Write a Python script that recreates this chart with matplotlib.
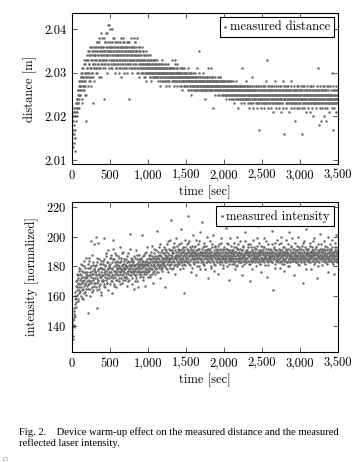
import matplotlib
matplotlib.use("Agg")
import matplotlib.pyplot as plt
import numpy as np
from matplotlib.ticker import FuncFormatter

# two logs, each one sample every 5 s (second one shifted by 2.5 s), 20 samples per line = 100 s
step = 5.0

# distance in mm above 2.000 m
dist_mm_a = [
    15, 13, 20, 16, 21, 14, 22, 17, 20, 12, 21, 23, 22, 24, 20, 25, 23, 26, 22, 28,
    26, 28, 25, 29, 27, 30, 24, 28, 31, 26, 29, 27, 32, 28, 30, 25, 19, 33, 29, 31,
    31, 29, 33, 27, 35, 30, 32, 28, 34, 31, 36, 29, 33, 30, 35, 23, 32, 34, 28, 31,
    32, 34, 31, 36, 33, 35, 30, 37, 32, 34, 38, 33, 31, 36, 35, 29, 34, 39, 32, 33,
    35, 31, 36, 33, 24, 34, 37, 32, 35, 39, 33, 30, 36, 34, 41, 32, 35, 41, 33, 36,
    34, 37, 31, 35, 33, 36, 40, 32, 34, 38, 33, 35, 30, 36, 32, 34, 37, 31, 35, 33,
    36, 32, 34, 30, 35, 37, 33, 31, 36, 34, 29, 35, 32, 38, 33, 36, 31, 34, 37, 32,
    33, 35, 31, 36, 32, 34, 30, 37, 35, 33, 24, 36, 32, 34, 31, 35, 33, 36, 30, 34,
    35, 32, 38, 33, 36, 31, 34, 37, 32, 35, 30, 33, 38, 34, 31, 36, 33, 29, 35, 32,
    34, 31, 33, 36, 30, 32, 35, 31, 33, 29, 34, 32, 30, 33, 31, 35, 28, 32, 30, 34,
    31, 33, 30, 32, 29, 34, 31, 30, 33, 28, 32, 31, 29, 33, 30, 31, 32, 29, 30, 33,
    30, 32, 31, 29, 33, 30, 31, 28, 32, 30, 31, 29, 27, 32, 30, 31, 33, 29, 30, 28,
    31, 29, 30, 32, 28, 31, 30, 29, 27, 31, 30, 28, 32, 29, 31, 30, 28, 29, 31, 30,
    29, 31, 30, 28, 33, 29, 30, 31, 27, 29, 30, 28, 33, 31, 29, 30, 28, 32, 29, 30,
    30, 28, 29, 31, 27, 30, 29, 28, 30, 31, 26, 29, 28, 30, 27, 29, 31, 28, 30, 29,
    28, 30, 29, 27, 31, 28, 29, 26, 30, 28, 27, 29, 25, 28, 30, 27, 29, 28, 26, 29,
    27, 29, 28, 30, 26, 28, 29, 27, 31, 28, 26, 29, 27, 28, 30, 35, 27, 29, 28, 26,
    28, 27, 29, 26, 28, 30, 27, 28, 26, 29, 27, 24, 28, 27, 29, 26, 28, 27, 31, 28,
    27, 29, 26, 28, 27, 31, 28, 26, 27, 29, 28, 22, 27, 26, 28, 27, 29, 26, 28, 27,
    26, 28, 27, 29, 26, 27, 28, 25, 27, 29, 26, 28, 27, 26, 28, 25, 27, 28, 26, 27,
    26, 27, 25, 28, 26, 24, 27, 26, 28, 25, 27, 26, 24, 28, 26, 27, 25, 26, 28, 24,
    25, 27, 26, 24, 28, 25, 26, 23, 27, 25, 26, 24, 28, 26, 25, 27, 24, 26, 22, 25,
    26, 24, 27, 25, 23, 26, 31, 25, 27, 24, 26, 25, 23, 27, 24, 26, 25, 28, 24, 26,
    25, 27, 24, 26, 23, 25, 22, 26, 24, 27, 25, 23, 26, 24, 29, 25, 22, 26, 24, 25,
    24, 26, 25, 23, 27, 24, 25, 22, 26, 24, 23, 17, 25, 27, 24, 26, 23, 25, 22, 24,
    26, 24, 23, 25, 27, 24, 22, 26, 25, 23, 24, 28, 25, 33, 23, 26, 24, 22, 25, 27,
    24, 25, 23, 26, 22, 24, 27, 25, 23, 24, 21, 26, 25, 23, 28, 24, 22, 25, 26, 23,
    25, 23, 24, 26, 22, 25, 24, 27, 23, 25, 21, 24, 26, 23, 25, 28, 22, 24, 16, 25,
    24, 26, 23, 25, 22, 24, 27, 23, 25, 24, 21, 26, 23, 24, 25, 22, 28, 24, 23, 25,
    23, 25, 24, 22, 26, 24, 23, 25, 19, 24, 26, 22, 25, 23, 24, 27, 23, 25, 22, 24,
    25, 23, 24, 26, 16, 24, 22, 25, 23, 27, 24, 22, 25, 23, 24, 26, 21, 24, 25, 23,
    24, 22, 25, 23, 26, 24, 21, 25, 23, 24, 27, 22, 24, 25, 23, 20, 24, 26, 23, 25,
    23, 25, 24, 22, 26, 23, 25, 31, 24, 18, 23, 25, 22, 24, 26, 19, 23, 25, 24, 22,
    24, 23, 25, 20, 24, 22, 26, 23, 25, 19, 24, 22, 25, 27, 23, 24, 21, 25, 23, 24,
    25, 23, 24, 30, 22, 25, 17, 24, 23, 26, 22, 24, 25, 23, 21, 24, 26, 23, 25, 24,
]

dist_mm_b = [
    14, 17, 13, 19, 16, 21, 18, 20, 15, 22, 19, 23, 21, 24, 22, 26, 23, 25, 27, 24,
    27, 25, 29, 26, 30, 28, 23, 31, 27, 29, 26, 33, 28, 30, 27, 32, 29, 25, 34, 30,
    33, 30, 35, 28, 32, 34, 29, 36, 31, 33, 27, 35, 30, 34, 32, 36, 29, 33, 31, 35,
    34, 36, 30, 33, 37, 31, 35, 32, 36, 34, 29, 37, 33, 35, 31, 36, 34, 32, 38, 35,
    33, 36, 34, 38, 32, 35, 31, 37, 34, 36, 33, 39, 35, 32, 37, 34, 36, 31, 35, 40,
    35, 33, 36, 32, 37, 34, 31, 35, 33, 36, 38, 32, 34, 37, 33, 35, 31, 36, 34, 32,
    34, 37, 33, 35, 31, 36, 34, 32, 38, 35, 33, 31, 36, 34, 32, 37, 35, 30, 33, 36,
    35, 31, 34, 37, 33, 36, 32, 35, 34, 31, 37, 33, 35, 32, 36, 34, 38, 31, 35, 33,
    33, 36, 34, 31, 35, 32, 37, 33, 34, 36, 31, 35, 33, 30, 34, 36, 32, 35, 31, 33,
    32, 34, 30, 33, 31, 35, 32, 30, 34, 31, 33, 29, 32, 31, 34, 30, 33, 31, 32, 30,
    32, 30, 33, 31, 30, 32, 29, 31, 33, 30, 31, 32, 30, 29, 31, 33, 30, 32, 31, 29,
    31, 29, 30, 32, 31, 30, 29, 31, 30, 32, 28, 31, 30, 29, 31, 32, 30, 28, 31, 30,
    30, 31, 29, 30, 28, 31, 30, 32, 29, 30, 31, 28, 30, 29, 31, 30, 27, 30, 29, 31,
    30, 29, 31, 30, 28, 30, 29, 31, 28, 30, 29, 32, 30, 28, 29, 31, 30, 27, 29, 30,
    29, 30, 28, 29, 30, 27, 29, 30, 28, 29, 31, 28, 29, 27, 30, 28, 29, 30, 27, 28,
    29, 28, 30, 27, 29, 28, 26, 29, 28, 30, 27, 28, 29, 26, 28, 27, 29, 30, 28, 27,
    28, 27, 29, 28, 26, 27, 28, 29, 27, 26, 28, 27, 29, 28, 26, 27, 28, 29, 26, 28,
    27, 28, 26, 29, 27, 28, 26, 27, 28, 29, 26, 27, 28, 26, 27, 29, 28, 26, 27, 28,
    28, 26, 27, 28, 29, 27, 26, 28, 27, 26, 28, 29, 27, 28, 26, 27, 28, 25, 27, 28,
    27, 26, 28, 27, 25, 28, 26, 27, 29, 26, 27, 28, 26, 25, 27, 28, 26, 27, 25, 28,
    27, 25, 26, 28, 27, 26, 25, 27, 26, 28, 25, 27, 26, 25, 27, 26, 28, 25, 26, 27,
    26, 25, 27, 26, 24, 27, 26, 25, 27, 26, 24, 25, 27, 26, 25, 27, 26, 24, 27, 26,
    25, 27, 26, 24, 27, 25, 26, 27, 24, 25, 26, 27, 25, 24, 26, 27, 25, 26, 24, 27,
    26, 24, 25, 27, 26, 24, 25, 26, 27, 23, 25, 26, 24, 27, 25, 26, 23, 25, 27, 26,
    25, 26, 24, 27, 25, 23, 26, 25, 24, 27, 25, 26, 23, 24, 26, 25, 27, 24, 25, 26,
    24, 26, 25, 27, 23, 25, 26, 24, 27, 25, 23, 26, 24, 25, 27, 26, 24, 23, 25, 26,
    26, 25, 24, 26, 27, 23, 25, 26, 24, 25, 27, 24, 26, 23, 25, 26, 24, 27, 25, 24,
    25, 27, 24, 26, 25, 23, 26, 24, 25, 27, 24, 26, 25, 23, 24, 26, 27, 25, 24, 26,
    27, 24, 26, 25, 23, 26, 25, 24, 27, 26, 24, 25, 23, 26, 25, 24, 26, 27, 25, 23,
    24, 26, 25, 23, 27, 25, 24, 26, 25, 23, 26, 24, 27, 25, 24, 26, 23, 25, 26, 24,
    26, 24, 25, 27, 24, 26, 23, 25, 24, 26, 27, 25, 24, 23, 26, 25, 24, 27, 25, 26,
    25, 23, 26, 24, 25, 27, 24, 26, 25, 23, 24, 26, 25, 27, 24, 25, 23, 26, 24, 25,
    24, 26, 23, 25, 27, 24, 25, 26, 23, 24, 26, 25, 27, 24, 23, 25, 26, 24, 25, 27,
    26, 25, 24, 27, 23, 25, 26, 24, 25, 26, 23, 27, 24, 25, 26, 24, 23, 25, 27, 24,
    25, 24, 26, 23, 25, 27, 24, 26, 25, 23, 24, 26, 25, 27, 24, 23, 25, 26, 24, 25,
]

intensity_a = [
    142, 137, 145, 131, 139, 148, 152, 158, 147, 163, 156, 170, 161, 166, 175, 158, 172, 168, 164, 177,
    171, 163, 178, 166, 174, 159, 181, 169, 165, 176, 170, 184, 162, 173, 168, 179, 161, 175, 172, 167,
    176, 168, 182, 149, 174, 170, 186, 165, 179, 173, 197, 169, 177, 163, 181, 171, 175, 195, 167, 178,
    172, 180, 166, 200, 175, 152, 183, 169, 177, 171, 185, 165, 174, 179, 168, 182, 173, 163, 178, 170,
    179, 171, 184, 168, 176, 199, 173, 181, 166, 177, 187, 172, 175, 169, 183, 178, 164, 180, 174, 186,
    176, 182, 170, 188, 174, 162, 179, 185, 172, 198, 177, 168, 183, 175, 189, 171, 180, 166, 178, 184,
    181, 174, 187, 170, 179, 193, 176, 183, 172, 178, 186, 169, 180, 175, 190, 177, 173, 184, 179, 171,
    178, 185, 173, 180, 167, 183, 176, 189, 175, 181, 171, 179, 202, 177, 184, 174, 180, 168, 182, 176,
    183, 176, 165, 180, 187, 174, 181, 178, 191, 172, 179, 185, 170, 182, 177, 188, 175, 180, 173, 184,
    179, 186, 174, 182, 201, 177, 184, 171, 180, 188, 176, 183, 167, 181, 178, 190, 175, 182, 185, 173,
    182, 176, 188, 179, 185, 173, 183, 190, 178, 181, 187, 175, 184, 169, 180, 186, 177, 192, 183, 179,
    184, 178, 191, 181, 204, 176, 186, 183, 193, 179, 185, 172, 188, 182, 180, 190, 177, 186, 184, 189,
    186, 180, 193, 183, 188, 166, 185, 191, 179, 187, 195, 182, 189, 176, 184, 192, 186, 181, 198, 185,
    211, 183, 190, 178, 187, 193, 184, 189, 181, 196, 186, 175, 191, 185, 188, 180, 194, 187, 183, 190,
    188, 182, 195, 185, 191, 178, 189, 186, 205, 183, 192, 187, 179, 190, 184, 162, 188, 193, 181, 186,
    189, 184, 195, 186, 191, 214, 183, 190, 187, 197, 181, 188, 192, 185, 176, 189, 194, 186, 183, 191,
    187, 193, 182, 189, 185, 198, 188, 174, 191, 186, 184, 195, 189, 180, 187, 192, 185, 203, 188, 183,
    190, 210, 184, 188, 193, 182, 187, 196, 185, 189, 178, 191, 186, 194, 183, 188, 190, 172, 187, 192,
    186, 191, 183, 188, 197, 185, 190, 179, 188, 193, 184, 187, 201, 182, 189, 186, 194, 181, 188, 190,
    189, 183, 192, 186, 175, 190, 185, 195, 188, 182, 191, 187, 184, 199, 186, 189, 181, 192, 187, 185,
    188, 193, 184, 190, 186, 206, 183, 189, 192, 180, 187, 195, 185, 190, 171, 188, 184, 191, 186, 194,
    187, 182, 191, 188, 185, 196, 183, 189, 178, 190, 186, 193, 184, 188, 200, 181, 189, 186, 192, 185,
    190, 185, 188, 197, 183, 189, 186, 174, 191, 187, 184, 194, 188, 182, 190, 186, 203, 185, 189, 183,
    186, 191, 184, 188, 195, 182, 189, 187, 170, 190, 185, 193, 188, 183, 191, 186, 198, 184, 189, 187,
    188, 183, 192, 186, 189, 180, 194, 187, 185, 207, 190, 184, 188, 196, 182, 189, 186, 176, 191, 185,
    189, 186, 193, 184, 188, 199, 185, 190, 187, 181, 192, 186, 189, 173, 184, 195, 188, 183, 190, 186,
    187, 192, 184, 189, 186, 204, 183, 190, 188, 164, 185, 193, 187, 182, 189, 196, 184, 188, 191, 185,
    186, 190, 183, 188, 195, 185, 189, 179, 191, 187, 184, 200, 188, 182, 190, 186, 193, 184, 177, 189,
    188, 184, 191, 186, 198, 183, 189, 187, 192, 180, 188, 185, 203, 187, 183, 190, 186, 194, 184, 189,
    187, 192, 185, 189, 174, 186, 190, 184, 196, 188, 183, 191, 187, 185, 200, 182, 189, 186, 193, 188,
    185, 190, 187, 183, 194, 188, 186, 191, 169, 187, 184, 197, 189, 186, 182, 192, 188, 205, 185, 190,
    189, 184, 192, 187, 185, 196, 183, 188, 190, 178, 186, 193, 187, 184, 191, 188, 199, 182, 189, 186,
    188, 193, 185, 190, 186, 172, 189, 184, 195, 187, 183, 191, 188, 202, 185, 190, 186, 181, 192, 187,
    186, 190, 184, 197, 188, 183, 191, 187, 185, 208, 189, 182, 193, 186, 176, 190, 187, 184, 195, 188,
    187, 192, 185, 189, 183, 198, 186, 190, 188, 175, 184, 193, 187, 191, 185, 201, 188, 183, 190, 186,
]

intensity_b = [
    135, 144, 140, 133, 146, 150, 141, 155, 160, 153, 167, 159, 171, 164, 157, 169, 174, 162, 179, 166,
    168, 175, 160, 172, 182, 164, 170, 177, 158, 173, 167, 180, 171, 163, 176, 169, 186, 165, 174, 170,
    173, 179, 165, 171, 184, 168, 176, 160, 174, 180, 170, 188, 166, 175, 172, 183, 164, 178, 169, 176,
    177, 169, 181, 174, 164, 186, 172, 178, 170, 196, 175, 167, 182, 173, 179, 161, 176, 184, 171, 174,
    174, 182, 170, 178, 185, 167, 180, 175, 189, 171, 177, 183, 169, 179, 174, 191, 172, 176, 181, 168,
    179, 173, 186, 176, 170, 183, 178, 192, 174, 180, 167, 185, 177, 173, 182, 176, 188, 171, 179, 175,
    177, 183, 172, 180, 186, 175, 179, 168, 184, 177, 181, 174, 189, 178, 171, 182, 176, 185, 173, 180,
    182, 175, 179, 187, 172, 180, 184, 177, 170, 183, 178, 192, 174, 181, 176, 186, 179, 172, 185, 177,
    178, 184, 175, 181, 170, 186, 177, 182, 179, 174, 188, 176, 183, 180, 166, 181, 178, 185, 176, 182,
    181, 176, 185, 179, 183, 173, 180, 187, 177, 182, 175, 189, 179, 184, 176, 181, 193, 178, 183, 177,
    180, 186, 177, 183, 188, 179, 174, 185, 181, 194, 178, 183, 186, 176, 182, 189, 180, 184, 175, 187,
    185, 179, 187, 183, 176, 190, 182, 186, 180, 188, 184, 195, 181, 178, 187, 183, 191, 179, 185, 182,
    183, 189, 181, 186, 192, 180, 187, 184, 190, 178, 186, 183, 197, 185, 181, 188, 184, 179, 191, 186,
    188, 182, 186, 191, 184, 179, 189, 186, 193, 183, 187, 181, 190, 186, 199, 184, 188, 182, 192, 187,
    185, 191, 187, 183, 189, 196, 184, 188, 181, 190, 186, 193, 185, 189, 182, 191, 187, 198, 184, 189,
    186, 192, 188, 183, 190, 185, 196, 187, 182, 189, 193, 184, 188, 191, 179, 187, 190, 185, 201, 188,
    190, 185, 188, 194, 183, 189, 186, 191, 180, 188, 192, 186, 183, 197, 188, 185, 190, 178, 189, 186,
    185, 189, 192, 183, 187, 190, 181, 188, 194, 186, 189, 183, 191, 187, 200, 185, 188, 192, 184, 189,
    189, 184, 187, 192, 186, 180, 190, 188, 185, 195, 187, 183, 189, 191, 177, 188, 186, 193, 184, 190,
    187, 191, 185, 189, 194, 183, 188, 186, 192, 184, 189, 196, 186, 183, 190, 187, 185, 191, 179, 188,
    186, 190, 188, 183, 192, 187, 185, 196, 189, 184, 188, 191, 186, 182, 190, 187, 199, 185, 189, 184,
    190, 186, 184, 191, 188, 182, 189, 193, 186, 187, 180, 190, 185, 192, 188, 184, 189, 195, 186, 183,
    187, 183, 192, 186, 189, 185, 191, 188, 180, 187, 193, 184, 189, 186, 197, 185, 188, 191, 183, 190,
    189, 186, 188, 193, 184, 190, 187, 182, 189, 195, 186, 184, 191, 188, 178, 190, 185, 189, 193, 186,
    185, 190, 187, 184, 192, 188, 186, 199, 183, 189, 187, 191, 185, 182, 190, 188, 194, 186, 184, 189,
    190, 184, 188, 191, 186, 183, 193, 187, 189, 185, 197, 188, 184, 190, 186, 192, 181, 189, 187, 185,
    188, 186, 191, 184, 189, 195, 187, 183, 190, 188, 185, 192, 186, 189, 179, 187, 191, 184, 198, 188,
    184, 189, 187, 192, 185, 188, 183, 190, 186, 196, 188, 184, 191, 187, 185, 189, 193, 182, 188, 190,
    189, 185, 192, 187, 183, 190, 188, 195, 184, 189, 186, 180, 191, 188, 185, 193, 187, 189, 184, 199,
    186, 190, 184, 188, 192, 185, 189, 187, 183, 191, 186, 194, 188, 184, 190, 187, 181, 189, 192, 185,
    190, 187, 184, 192, 186, 189, 196, 185, 188, 183, 190, 187, 193, 185, 189, 186, 178, 191, 188, 184,
    187, 192, 185, 189, 183, 190, 187, 194, 186, 188, 191, 184, 189, 197, 186, 185, 190, 188, 183, 192,
    185, 189, 193, 186, 188, 184, 191, 187, 180, 190, 186, 192, 188, 185, 195, 187, 189, 184, 191, 186,
    190, 186, 188, 192, 185, 189, 194, 183, 188, 186, 191, 187, 184, 200, 189, 186, 192, 185, 188, 190,
    188, 184, 191, 187, 193, 186, 189, 182, 190, 188, 185, 196, 187, 191, 184, 189, 186, 193, 188, 185,
]

x_ticks = [0, 500, 1000, 1500, 2000, 2500, 3000, 3500]
dist_ticks = [2.01, 2.02, 2.03, 2.04]
int_ticks = [140, 160, 180, 200, 220]

t_a = np.arange(len(dist_mm_a)) * step
t_b = np.arange(len(dist_mm_b)) * step + step / 2
t_dist = np.concatenate([t_a, t_b])
dist = 2.0 + np.array(dist_mm_a + dist_mm_b) / 1000.0
t_int = np.concatenate([np.arange(len(intensity_a)) * step,
                        np.arange(len(intensity_b)) * step + step / 2])
inten = np.array(intensity_a + intensity_b)

plt.rcParams['font.family'] = 'cmr10'
plt.rcParams['axes.formatter.use_mathtext'] = True
plt.rcParams['font.size'] = 9

dot = '#6c6c6c'
fig = plt.figure(figsize=(3.6, 4.62), dpi=100)


def style(ax):
    ax.tick_params(direction='in', length=3.5, width=0.6, top=True, right=True,
                   labelsize=9, pad=4, color='#444444')
    for s in ax.spines.values():
        s.set_linewidth(0.8)
    ax.set_xlim(0, 3500)
    ax.set_xticks(x_ticks)
    ax.xaxis.set_major_formatter(FuncFormatter(lambda v, p: '{:,}'.format(int(v))))
    ax.set_xlabel('time [sec]', fontsize=9, labelpad=3)


ax1 = fig.add_axes([0.2, 0.645, 0.739, 0.327])
ax1.scatter(t_dist, dist, s=3.2, c=dot, linewidths=0, label='measured distance')
ax1.set_ylim(2.0091, 2.0437)
ax1.set_yticks(dist_ticks)
ax1.yaxis.set_major_formatter(FuncFormatter(lambda v, p: '%.2f' % v))
ax1.set_ylabel('distance [m]', fontsize=9, labelpad=5)
style(ax1)

ax2 = fig.add_axes([0.2, 0.238, 0.739, 0.325])
ax2.scatter(t_int, inten, s=3.2, c=dot, linewidths=0, label='measured intensity')
ax2.set_ylim(122.5, 223.4)
ax2.set_yticks(int_ticks)
ax2.set_ylabel('intensity [normalized]', fontsize=9, labelpad=5)
style(ax2)

for ax in (ax1, ax2):
    leg = ax.legend(loc='upper right', fontsize=9, frameon=True, fancybox=False,
                    edgecolor='black', framealpha=1, borderpad=0.3, handlelength=0.3,
                    handletextpad=0.2, borderaxespad=0.35, markerscale=1.1)
    leg.get_frame().set_linewidth(0.8)

fig.text(0.053, 0.065, 'Fig. 2.    Device warm-up effect on the measured distance and the measured',
         fontsize=7.6, family='Liberation Serif', va='center')
fig.text(0.053, 0.04, 'reflected laser intensity.', fontsize=7.6,
         family='Liberation Serif', va='center')
fig.text(0.003, 0.003, '13', fontsize=5, family='Liberation Serif', color='#888888')

fig.savefig('out.png', dpi=100)
